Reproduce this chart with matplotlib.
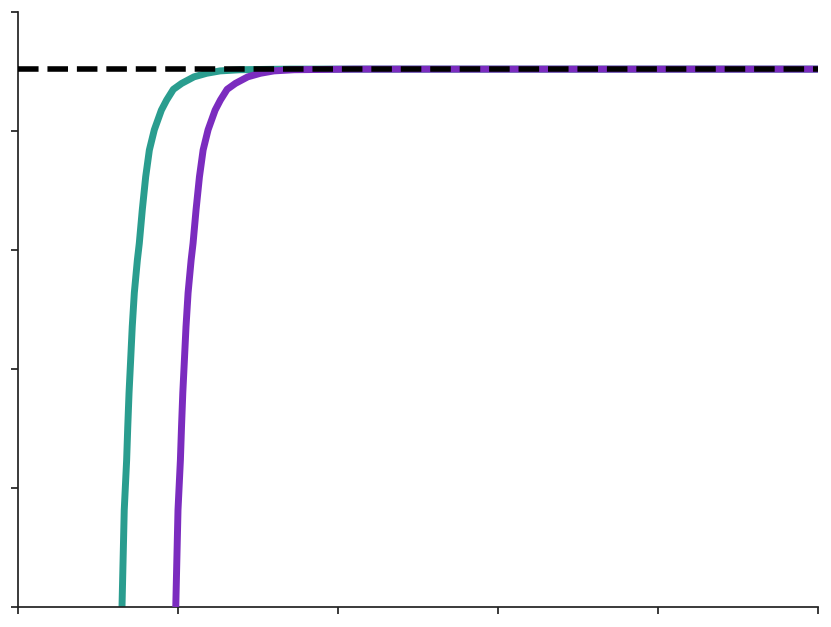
import matplotlib
matplotlib.use("Agg")
import matplotlib.pyplot as plt

# Data (x in axis units 0..5, y in 0..1)
teal_x = [0.650, 0.664, 0.679, 0.686, 0.694, 0.704, 0.714, 0.727, 0.746, 0.758,
          0.777, 0.798, 0.821, 0.852, 0.896, 0.929, 0.971, 1.023, 1.100, 1.179,
          1.263, 1.390, 1.700, 5.000]
teal_y = [0.000, 0.163, 0.247, 0.303, 0.360, 0.415, 0.471, 0.528, 0.583, 0.611,
          0.668, 0.723, 0.768, 0.802, 0.835, 0.852, 0.870, 0.880, 0.891, 0.897,
          0.901, 0.903, 0.904, 0.904]

purple_x = [0.986, 1.000, 1.015, 1.022, 1.030, 1.040, 1.050, 1.063, 1.082, 1.094,
            1.113, 1.134, 1.157, 1.188, 1.232, 1.265, 1.307, 1.359, 1.436, 1.515,
            1.599, 1.726, 2.100, 5.000]
purple_y = [0.000, 0.163, 0.247, 0.303, 0.360, 0.415, 0.471, 0.528, 0.583, 0.611,
            0.668, 0.723, 0.768, 0.802, 0.835, 0.852, 0.870, 0.880, 0.891, 0.897,
            0.901, 0.903, 0.904, 0.904]

asymptote = 0.904
x_ticks = [0, 1, 2, 3, 4, 5]
y_ticks = [0, 0.2, 0.4, 0.6, 0.8, 1.0]

fig = plt.figure(figsize=(8.31, 6.27), dpi=100)
ax = fig.add_axes([18/831, 20/627, 800/831, 595/627])

ax.plot(teal_x, teal_y, color="#2a9d8f", lw=5, solid_capstyle="butt",
        solid_joinstyle="round", zorder=2)
ax.plot(purple_x, purple_y, color="#7b2cbf", lw=5, solid_capstyle="butt",
        solid_joinstyle="round", zorder=3)
ax.axhline(asymptote, color="black", lw=4, ls="--", zorder=4)

ax.set_xlim(0, 5)
ax.set_ylim(0, 1)
ax.set_xticks(x_ticks)
ax.set_yticks(y_ticks)
ax.set_xticklabels([])
ax.set_yticklabels([])
for s in ["top", "right"]:
    ax.spines[s].set_visible(False)
for s in ["left", "bottom"]:
    ax.spines[s].set_color("#222222")
    ax.spines[s].set_linewidth(1.25)
ax.tick_params(length=5, width=1.25, color="#222222")

fig.savefig("out.png", dpi=100)
